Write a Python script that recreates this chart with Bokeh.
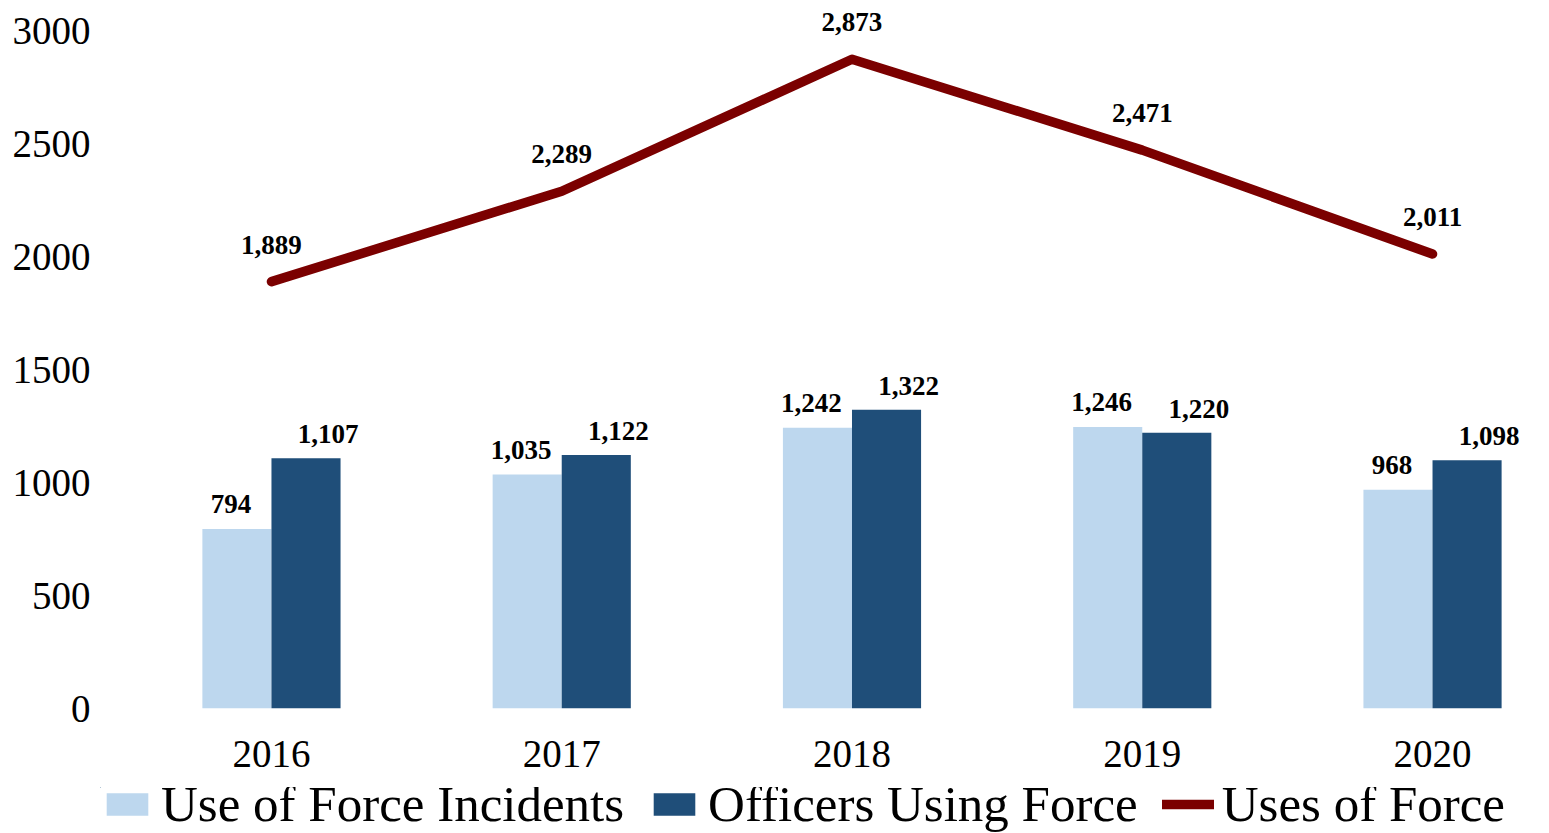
from bokeh.plotting import figure
from bokeh.layouts import column
from bokeh.models import Range1d, FixedTicker, Legend, LegendItem, ColumnDataSource
from bokeh.core.properties import value
from bokeh.embed import file_html
from bokeh.resources import INLINE

years = ["2016", "2017", "2018", "2019", "2020"]
incidents = [794, 1035, 1242, 1246, 968]
officers = [1107, 1122, 1322, 1220, 1098]
uses = [1889, 2289, 2873, 2471, 2011]

FONT = "Liberation Serif"
LIGHT = "#BDD7EE"
DARK = "#1F4E79"
RED = "#7B0000"

xs = list(range(len(years)))
bw = 0.238
src = ColumnDataSource(dict(
    x=xs,
    xl=[x - bw / 2 for x in xs],
    xd=[x + bw / 2 for x in xs],
    incidents=incidents,
    officers=officers,
    uses=uses,
    inc_lbl=[f"{v:,}" for v in incidents],
    off_lbl=[f"{v:,}" for v in officers],
    use_lbl=[f"{v:,}" for v in uses],
))

p = figure(width=1549, height=787, output_backend="svg", toolbar_location=None,
           x_range=Range1d(-0.589, 4.403), y_range=Range1d(0, 3133),
           min_border_left=100, min_border_right=0, min_border_top=0, min_border_bottom=79)
p.outline_line_color = None
p.xgrid.visible = False
p.ygrid.visible = False

r_inc = p.vbar(x="xl", top="incidents", width=bw, source=src, fill_color=LIGHT, line_color=None)
r_off = p.vbar(x="xd", top="officers", width=bw, source=src, fill_color=DARK, line_color=None)
r_use = p.line(x="x", y="uses", source=src, line_color=RED, line_width=9.5, line_cap="round", line_join="round")

lbl = dict(text_font=value(FONT), text_font_style="bold", text_font_size="27px",
           text_align="center", text_baseline="middle", text_color="black")
p.text(x="x", y="uses", text="use_lbl", source=src, y_offset=-37, **lbl)
p.text(x="xl", y="incidents", text="inc_lbl", source=src, y_offset=-25, x_offset=-6, **lbl)
p.text(x="xd", y="officers", text="off_lbl", source=src, y_offset=-24, x_offset=22, **lbl)

for ax in (p.xaxis[0], p.yaxis[0]):
    ax.axis_line_color = None
    ax.major_tick_line_color = None
    ax.minor_tick_line_color = None
    ax.major_tick_out = 0
    ax.major_tick_in = 0
    ax.minor_tick_out = 0
    ax.minor_tick_in = 0
    ax.major_label_text_font = FONT
    ax.major_label_text_font_size = "39px"
    ax.major_label_text_color = "black"

p.yaxis.ticker = FixedTicker(ticks=[0, 500, 1000, 1500, 2000, 2500, 3000])
p.yaxis.major_label_standoff = 10
p.xaxis.ticker = FixedTicker(ticks=xs)
p.xaxis.major_label_overrides = {i: y for i, y in enumerate(years)}
p.xaxis.major_label_standoff = 32

# Legend strip below the chart; its key renderers reuse the data but sit fully outside the strip's range
lg = figure(width=1549, height=46, output_backend="svg", toolbar_location=None,
            x_range=Range1d(100, 101), y_range=Range1d(-101, -100),
            x_axis_location=None, y_axis_location=None,
            min_border_left=0, min_border_right=0, min_border_top=0, min_border_bottom=0)
lg.outline_line_color = None
lg.xgrid.visible = False
lg.ygrid.visible = False
k_inc = lg.vbar(x="xl", top="incidents", bottom="officers", width=bw, source=src, fill_color=LIGHT, line_color=None)
k_off = lg.vbar(x="xd", top="officers", bottom="incidents", width=bw, source=src, fill_color=DARK, line_color=None)
k_use = lg.line(x="x", y="uses", source=src, line_color=RED, line_width=9.5, line_cap="round")

legend = Legend(items=[
    LegendItem(label="Use of Force Incidents", renderers=[k_inc]),
    LegendItem(label="Officers Using Force", renderers=[k_off]),
    LegendItem(label="Uses of Force", renderers=[k_use]),
], orientation="horizontal", location=(1, 0),
    label_text_font=FONT, label_text_font_size="51px", label_text_color="black",
    glyph_width=52, glyph_height=28, label_standoff=8, spacing=24,
    padding=0, margin=0, border_line_color=None, background_fill_alpha=0)
lg.add_layout(legend, "center")

open("out.html", "w").write(file_html(column(p, lg, spacing=0), INLINE))
